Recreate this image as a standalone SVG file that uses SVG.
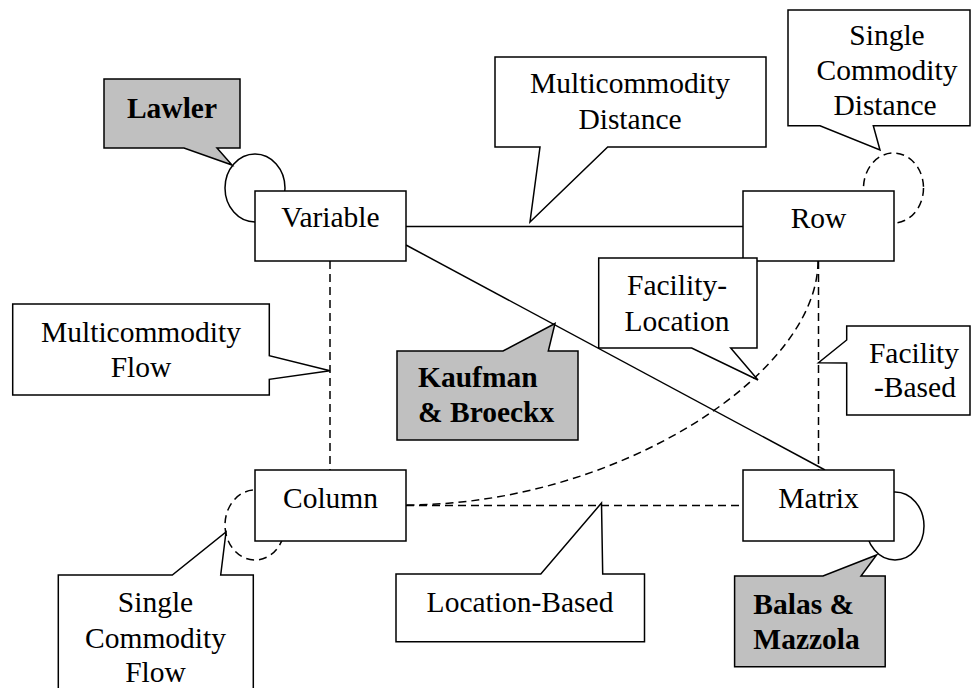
<svg xmlns="http://www.w3.org/2000/svg" width="973" height="688" viewBox="0 0 973 688">
<style>
.box{fill:#fff;stroke:#000;stroke-width:1.5}
.gray{fill:#c0c0c0;stroke:#000;stroke-width:1.5}
.ln{fill:none;stroke:#000;stroke-width:1.5}
.dash{fill:none;stroke:#000;stroke-width:1.5;stroke-dasharray:8,5}
.t{font-family:"Liberation Serif","Times New Roman",serif;font-size:29.5px;fill:#000;text-anchor:middle}
.b{font-family:"Liberation Serif","Times New Roman",serif;font-size:29.5px;font-weight:bold;fill:#000}
</style>
<rect width="973" height="688" fill="#fff"/>
<g id="connectors">
<line class="ln" x1="406" y1="226.5" x2="743" y2="226.5"/>
<line class="ln" x1="406" y1="245" x2="825" y2="470"/>
<line class="dash" x1="330" y1="261" x2="330" y2="470"/>
<line class="dash" x1="818.5" y1="261" x2="818.5" y2="470"/>
<line class="dash" x1="406" y1="505.5" x2="743" y2="505.5"/>
<path class="dash" d="M818,261 C818,375 615,505 406,505"/>
<ellipse class="ln" cx="255" cy="188" rx="30" ry="34"/>
<ellipse class="dash" cx="893.5" cy="188" rx="30" ry="35"/>
<ellipse class="dash" cx="255" cy="525" rx="30" ry="35"/>
<ellipse class="ln" cx="895" cy="526" rx="29" ry="34"/>
</g>
<g id="variable">
<rect class="box" x="255" y="191" width="151" height="70"/>
<text class="t" x="330.5" y="227">Variable</text>
</g>
<g id="row">
<rect class="box" x="743" y="191" width="151" height="70"/>
<text class="t" x="818.5" y="227.5">Row</text>
</g>
<g id="column">
<rect class="box" x="255" y="470" width="151" height="71"/>
<text class="t" x="330.5" y="507.5">Column</text>
</g>
<g id="matrix">
<rect class="box" x="743" y="470" width="151" height="71"/>
<text class="t" x="818.5" y="507.5">Matrix</text>
</g>
<g id="lawler">
<path class="gray" d="M104,79 H240 V148 H217 L232,165 L184,148 H104 Z"/>
<text class="b" x="172" y="118" text-anchor="middle">Lawler</text>
</g>
<g id="multicommodity-distance">
<path class="box" d="M495,57 H766 V147 H607.7 L530,222 L540,147 H495 Z"/>
<text class="t" x="630" y="92.5">Multicommodity</text>
<text class="t" x="630" y="128.5">Distance</text>
</g>
<g id="single-commodity-distance">
<path class="box" d="M788,10 H970 V125.7 H873.3 L880,150 L820,125.7 H788 Z"/>
<text class="t" x="887" y="45">Single</text>
<text class="t" x="887" y="80">Commodity</text>
<text class="t" x="885" y="115">Distance</text>
</g>
<g id="facility-location">
<path class="box" d="M598.7,258 H757 V348 H730.7 L758,380 L691.7,348 H598.7 Z"/>
<text class="t" x="677" y="295">Facility-</text>
<text class="t" x="677" y="330.5">Location</text>
</g>
<g id="facility-based">
<path class="box" d="M846.7,326 H970 V415 H846.7 V363 L818.5,362.7 L846.7,340 Z"/>
<text class="t" x="914" y="362.5">Facility</text>
<text class="t" x="915" y="396.5">-Based</text>
</g>
<g id="multicommodity-flow">
<path class="box" d="M12.7,304 H269.3 V355.7 L330,370.7 L269.3,379.3 V395 H12.7 Z"/>
<text class="t" x="141" y="341.5">Multicommodity</text>
<text class="t" x="141" y="377">Flow</text>
</g>
<g id="kaufman-broeckx">
<path class="gray" d="M397,351 H503 L555,323.5 L548.3,351 H578 V440 H397 Z"/>
<text class="b" x="418" y="387">Kaufman</text>
<text class="b" x="418" y="421.5">&amp; Broeckx</text>
</g>
<g id="single-commodity-flow">
<path class="box" d="M58.3,575 H172.3 L226,532 L220.7,575 H253.3 V690 H58.3 Z"/>
<text class="t" x="155.5" y="612">Single</text>
<text class="t" x="155.5" y="647.5">Commodity</text>
<text class="t" x="155.5" y="682">Flow</text>
</g>
<g id="location-based">
<path class="box" d="M396,574 H540.8 L601.5,503 L602.7,574 H644.5 V641.7 H396 Z"/>
<text class="t" x="520" y="611.5">Location-Based</text>
</g>
<g id="balas-mazzola">
<path class="gray" d="M734.6,576 H823 L876.6,555 L861,576 H885.2 V666.7 H734.6 Z"/>
<text class="b" x="753.3" y="614">Balas &amp;</text>
<text class="b" x="753.3" y="649">Mazzola</text>
</g>
</svg>
